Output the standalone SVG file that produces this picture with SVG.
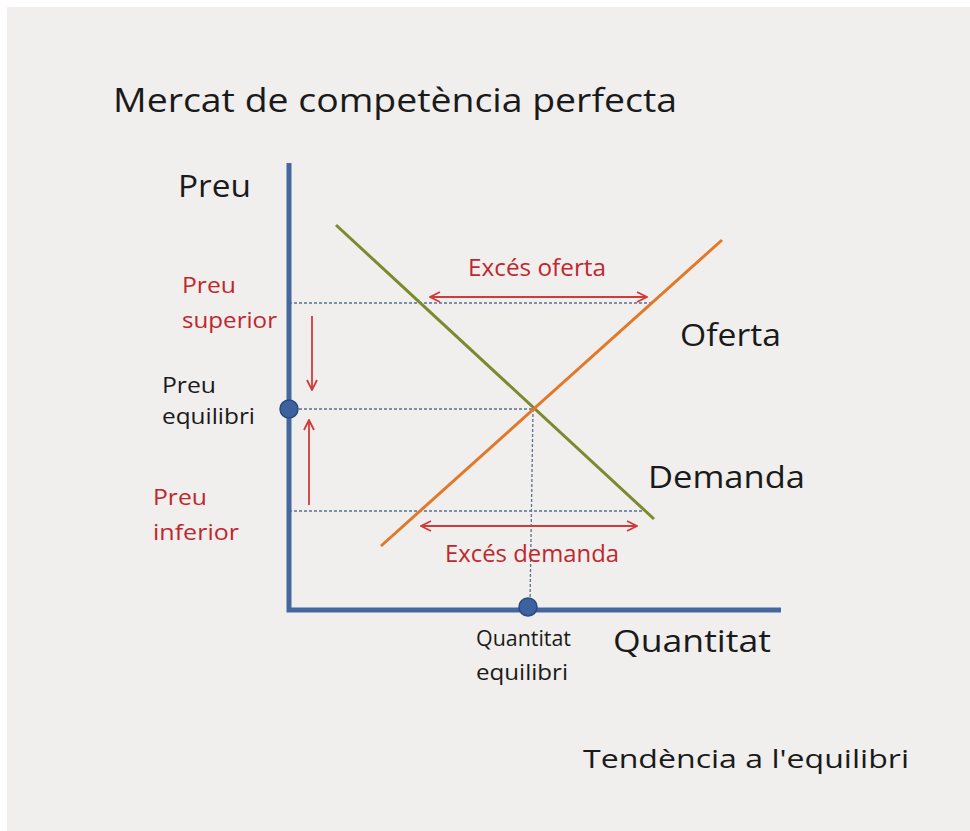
<svg xmlns="http://www.w3.org/2000/svg" width="970" height="831" viewBox="0 0 970 831">
<defs>
<style>
text{font-family:"Open Sans","Liberation Sans",Arial,sans-serif;}
.blk{fill:#1a1a1a;}
.red{fill:#c0272d;}
.axis{stroke:#44689e;stroke-width:5;fill:none;}
.dash{stroke:#5a7090;stroke-width:1.3;stroke-dasharray:3 2;fill:none;}
.rarrow{stroke:#d23a3a;stroke-width:1.8;fill:none;}
</style>
<marker id="ah" viewBox="0 0 12 12" refX="11" refY="6" markerWidth="12" markerHeight="12" markerUnits="userSpaceOnUse" orient="auto-start-reverse">
<path d="M1,1 L11,6 L1,11" fill="none" stroke="#d23a3a" stroke-width="1.8"/>
</marker>
</defs>
<rect x="0" y="0" width="970" height="831" fill="#ffffff"/>
<rect x="7" y="7" width="963" height="824" fill="#f0efed"/>

<g id="title"><text x="113" y="112" font-size="32" class="blk" textLength="564" lengthAdjust="spacingAndGlyphs">Mercat de competència perfecta</text></g>

<g id="connectors">
<line class="dash" x1="289" y1="303" x2="652" y2="303"/>
<line class="dash" x1="289" y1="409" x2="533" y2="409"/>
<line class="dash" x1="289" y1="511" x2="642" y2="511"/>
<line class="dash" x1="533" y1="409" x2="530" y2="603"/>
<line x1="336" y1="225" x2="654" y2="519" stroke="#7b8a2e" stroke-width="3"/>
<line x1="381" y1="546" x2="722" y2="240" stroke="#e07a2a" stroke-width="3"/>
<line class="rarrow" x1="430" y1="297" x2="647" y2="297" marker-start="url(#ah)" marker-end="url(#ah)"/>
<line class="rarrow" x1="421" y1="526" x2="637" y2="526" marker-start="url(#ah)" marker-end="url(#ah)"/>
<line class="rarrow" x1="312" y1="316" x2="312" y2="390" marker-end="url(#ah)"/>
<line class="rarrow" x1="309" y1="505" x2="309" y2="420" marker-end="url(#ah)"/>
</g>

<g id="axes">
<polyline class="axis" points="289,163 289,610 781,610"/>
</g>
<g id="dot-preu"><circle cx="289" cy="409" r="9" fill="#3d62a0" stroke="#2c4a7e" stroke-width="1.5"/></g>
<g id="dot-quant"><circle cx="528" cy="607" r="9" fill="#3d62a0" stroke="#2c4a7e" stroke-width="1.5"/></g>

<g id="label-preu"><text x="178" y="197" font-size="31" class="blk" textLength="73" lengthAdjust="spacingAndGlyphs">Preu</text></g>
<g id="label-superior" font-size="22">
<text x="182" y="293" class="red" textLength="54" lengthAdjust="spacingAndGlyphs">Preu</text>
<text x="182" y="328" class="red" textLength="95" lengthAdjust="spacingAndGlyphs">superior</text>
</g>
<g id="label-equilibri" font-size="22">
<text x="162" y="393" class="blk" textLength="54" lengthAdjust="spacingAndGlyphs">Preu</text>
<text x="162" y="424" class="blk" textLength="93" lengthAdjust="spacingAndGlyphs">equilibri</text>
</g>
<g id="label-inferior" font-size="22">
<text x="153" y="505" class="red" textLength="54" lengthAdjust="spacingAndGlyphs">Preu</text>
<text x="153" y="540" class="red" textLength="86" lengthAdjust="spacingAndGlyphs">inferior</text>
</g>
<g id="label-exces-oferta"><text x="468" y="276" font-size="23" class="red" textLength="138" lengthAdjust="spacingAndGlyphs">Excés oferta</text></g>
<g id="label-exces-demanda"><text x="445" y="562" font-size="23" class="red" textLength="174" lengthAdjust="spacingAndGlyphs">Excés demanda</text></g>
<g id="label-oferta"><text x="680" y="346" font-size="31" class="blk" textLength="101" lengthAdjust="spacingAndGlyphs">Oferta</text></g>
<g id="label-demanda"><text x="648" y="488" font-size="31" class="blk" textLength="157" lengthAdjust="spacingAndGlyphs">Demanda</text></g>
<g id="label-quantitat"><text x="613" y="652" font-size="31" class="blk" textLength="158" lengthAdjust="spacingAndGlyphs">Quantitat</text></g>
<g id="label-qeq" font-size="22">
<text x="476" y="646" class="blk" textLength="95" lengthAdjust="spacingAndGlyphs">Quantitat</text>
<text x="476" y="680" class="blk" textLength="92" lengthAdjust="spacingAndGlyphs">equilibri</text>
</g>
<g id="label-tendencia"><text x="583" y="768" font-size="26" class="blk" textLength="326" lengthAdjust="spacingAndGlyphs">Tendència a l'equilibri</text></g>
</svg>
